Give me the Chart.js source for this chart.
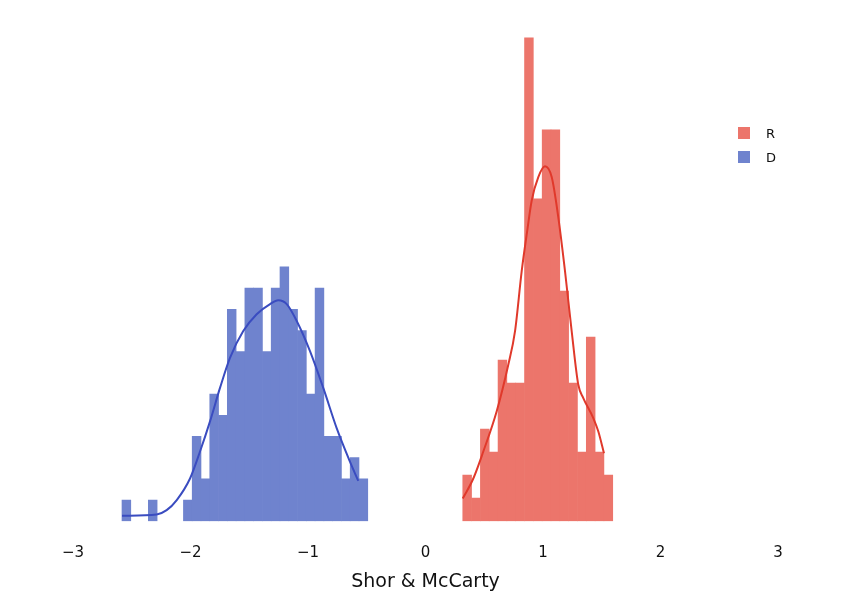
<!DOCTYPE html>
<html>
<head>
<meta charset="utf-8">
<script src="https://cdn.jsdelivr.net/npm/chart.js@4/dist/chart.umd.min.js"></script>
<style>
  html, body { margin: 0; padding: 0; background: #fff; }
  #wrap { position: relative; width: 850px; height: 600px; }
  #legend { position: absolute; left: 738px; top: 121px; font-family: "DejaVu Sans", sans-serif; font-size: 13px; color: #111; }
  .item { height: 24px; display: flex; align-items: center; }
  .sw { width: 12px; height: 12px; margin-right: 16px; }
</style>
</head>
<body>
<div id="wrap">
  <canvas id="c" width="850" height="600"></canvas>
  <div id="legend"></div>
</div>
<script>
// ---- data ----
const xTicks = [-3, -2, -1, 0, 1, 2, 3];
const xTitle = "Shor & McCarty";

// D (blue) histogram: first bin left edge, bin width, counts per bin
const dStart = -2.583;
const dBinWidth = 0.0747;
const dCounts = [1,0,0,1,0,0,0,1,4,2,6,5,10,8,11,11,8,11,12,10,9,6,11,4,4,2,3,2];

// R (red) histogram
const rStart = 0.317;
const rBinWidth = 0.0751;
const rCounts = [2,1,4,3,7,6,6,21,14,17,17,10,6,3,8,3,2];

// KDE curves (density)
const dKdeX = [-2.583,-2.288,-2.203,-2.117,-2.004,-1.919,-1.834,-1.749,-1.664,-1.551,-1.437,-1.323,-1.253,-1.181,-1.096,-0.983,-0.870,-0.756,-0.643,-0.572];
const dKdeY = [0.024,0.030,0.049,0.094,0.190,0.310,0.444,0.593,0.727,0.846,0.921,0.966,0.983,0.966,0.891,0.757,0.593,0.414,0.265,0.179];
const rKdeX = [0.317,0.407,0.492,0.606,0.705,0.762,0.819,0.866,0.904,0.960,1.017,1.074,1.130,1.187,1.244,1.300,1.343,1.428,1.471,1.519];
const rKdeY = [0.101,0.190,0.310,0.489,0.697,0.846,1.114,1.293,1.427,1.531,1.579,1.531,1.353,1.114,0.846,0.608,0.548,0.459,0.399,0.302];

const labels = ["R", "D"];
// ---- styles ----
const colors = {
  R: { bar: "#EC756B", line: "#E0392B" },
  D: { bar: "#6F83CE", line: "#3A4CC0" }
};
const font = "'DejaVu Sans', sans-serif";

function histPoints(start, w, counts) {
  const n = counts.reduce((a, b) => a + b, 0);
  return counts.map((c, i) => ({ x: start + (i + 0.5) * w, y: c === 0 ? null : c / (n * w) }));
}
function curvePoints(xs, ys) { return xs.map((x, i) => ({ x: x, y: ys[i] })); }

const barCommon = { type: "bar", grouped: false, barPercentage: 1, categoryPercentage: 1, borderWidth: 0, order: 1 };
const lineCommon = { type: "line", pointRadius: 0, borderWidth: 2, fill: false, cubicInterpolationMode: "monotone", order: 0 };

new Chart(document.getElementById("c"), {
  type: "bar",
  data: {
    datasets: [
      Object.assign({ label: "R", data: histPoints(rStart, rBinWidth, rCounts), backgroundColor: colors.R.bar }, barCommon),
      Object.assign({ label: "D", data: histPoints(dStart, dBinWidth, dCounts), backgroundColor: colors.D.bar }, barCommon),
      Object.assign({ label: "R kde", data: curvePoints(rKdeX, rKdeY), borderColor: colors.R.line }, lineCommon),
      Object.assign({ label: "D kde", data: curvePoints(dKdeX, dKdeY), borderColor: colors.D.line }, lineCommon)
    ]
  },
  options: {
    responsive: false,
    animation: false,
    layout: { padding: { left: 73, right: 72, top: 20, bottom: 7 } },
    plugins: { legend: { display: false }, tooltip: { enabled: false } },
    scales: {
      x: {
        type: "linear", min: -3, max: 3, offset: false,
        grid: { display: false, drawTicks: false },
        border: { display: false },
        afterBuildTicks: (s) => { s.ticks = xTicks.map(v => ({ value: v })); },
        ticks: {
          padding: 23, color: "#111",
          font: { family: font, size: 15 },
          callback: (v) => String(v).replace("-", "\u2212")
        },
        title: { display: true, text: xTitle, color: "#111", font: { family: font, size: 19 }, padding: { top: -15, bottom: 0 } }
      },
      y: { display: false, min: 0, max: 2.23 }
    }
  }
});

const lg = document.getElementById("legend");
labels.forEach(l => {
  const it = document.createElement("div"); it.className = "item";
  const sw = document.createElement("div"); sw.className = "sw"; sw.style.background = colors[l].bar;
  const t = document.createElement("span"); t.textContent = l;
  it.appendChild(sw); it.appendChild(t); lg.appendChild(it);
});
</script>
</body>
</html>
